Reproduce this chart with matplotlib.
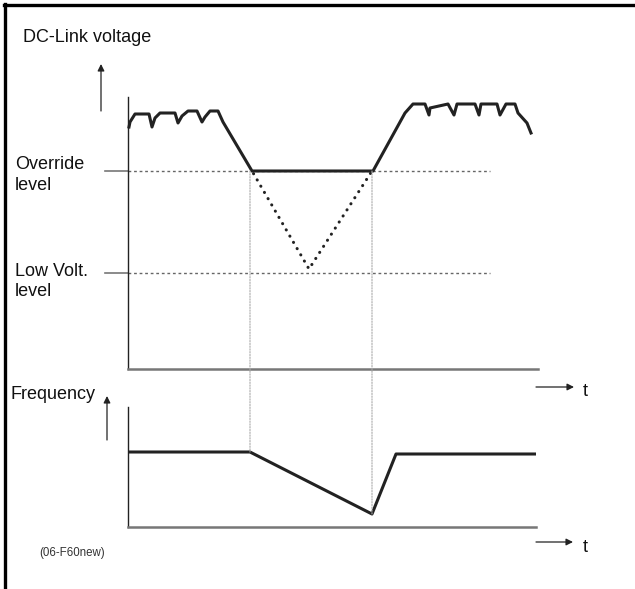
import matplotlib.pyplot as plt
from matplotlib.patches import ConnectionPatch

plt.rcParams['font.family'] = ['Liberation Sans', 'DejaVu Sans']
plt.rcParams['lines.scale_dashes'] = False

# DC-link voltage trace (time units, voltage units)
volt_t = [1, 2, 7, 21, 24, 27, 32, 47, 50, 54, 60, 69, 74, 77, 82, 90, 95,
          124, 245, 277, 285, 297, 301, 302, 320, 326, 329, 347, 351, 353,
          369, 372, 378, 387, 390, 399, 403]
volt_v = [242, 247, 255, 255, 242, 251, 256, 256, 246, 253, 258, 258, 247,
          252, 258, 258, 247, 198, 198, 256, 265, 265, 254, 261, 265, 254,
          265, 265, 254, 265, 265, 254, 265, 265, 256, 246, 236]

# levels
override_level = 198
lowvolt_level = 96
level_end = 362

# voltage without override (dotted V)
nooverride_t = [124, 181, 244]
nooverride_v = [198, 100, 198]

# output frequency
freq_t = [0, 122, 244, 268, 408]
freq_v = [75, 75, 13, 73, 73]

fig = plt.figure(figsize=(6.35, 5.89), dpi=100)

# overlay in pixel coordinates for frame, labels and arrows
bg = fig.add_axes([0, 0, 1, 1])
bg.set_xlim(0, 635)
bg.set_ylim(589, 0)
bg.axis('off')

W, H = 635, 589
ax_top = fig.add_axes([128 / W, 1 - 369 / H, 410 / W, 272 / H])
ax_bot = fig.add_axes([128 / W, 1 - 527 / H, 408 / W, 120 / H])

for ax in (ax_top, ax_bot):
    ax.patch.set_visible(False)
    ax.spines['top'].set_visible(False)
    ax.spines['right'].set_visible(False)
    ax.spines['left'].set_color('#222222')
    ax.spines['left'].set_linewidth(1.0)
    ax.spines['bottom'].set_color('#777777')
    ax.spines['bottom'].set_linewidth(1.8)
    ax.set_xticks([])
    ax.set_yticks([])

ax_top.set_xlim(0, 410)
ax_top.set_ylim(0, 272)
ax_bot.set_xlim(0, 408)
ax_bot.set_ylim(0, 120)

# top diagram
for lvl in (override_level, lowvolt_level):
    ax_top.plot([0, level_end], [lvl, lvl], color='#666666', lw=1.0,
                linestyle=(0, (2.0, 2.0)))
    ax_top.plot([-23, 0], [lvl, lvl], color='#777777', lw=1.2, clip_on=False)

ax_top.plot(nooverride_t, nooverride_v, color='#222222', lw=2.2,
            linestyle=(3, (0.1, 5.1)), dash_capstyle='round')
ax_top.plot(volt_t, volt_v, color='#222222', lw=2.2, solid_joinstyle='round',
            clip_on=False)

# bottom diagram
ax_bot.plot(freq_t, freq_v, color='#222222', lw=2.2)

# guide lines linking the two diagrams
for i in (1, 2):
    con = ConnectionPatch(xyA=(freq_t[i], override_level), coordsA=ax_top.transData,
                          xyB=(freq_t[i], freq_v[i]), coordsB=ax_bot.transData,
                          color='#aaaaaa', lw=0.8, linestyle=(0, (1, 1)))
    fig.add_artist(con)

# frame
bg.plot([4, 635], [5, 5], color='black', lw=2.4)
bg.plot([5, 5], [4, 589], color='black', lw=2.4)

# arrows
arrow = dict(arrowstyle='-|>', color='#222222', lw=0.9, mutation_scale=10,
             shrinkA=0, shrinkB=0)
bg.annotate('', xy=(101, 64), xytext=(101, 111), arrowprops=arrow)
bg.annotate('', xy=(107, 396), xytext=(107, 440), arrowprops=arrow)
bg.annotate('', xy=(574, 387), xytext=(536, 387), arrowprops=arrow)
bg.annotate('', xy=(573, 542), xytext=(536, 542), arrowprops=arrow)

# labels
fs = 13
bg.text(23, 42, 'DC-Link voltage', fontsize=fs, va='baseline', color='#111111')
bg.text(15, 169, 'Override', fontsize=fs, va='baseline', color='#111111')
bg.text(15, 190, 'level', fontsize=fs, va='baseline', color='#111111')
bg.text(15, 276, 'Low Volt.', fontsize=fs, va='baseline', color='#111111')
bg.text(15, 296, 'level', fontsize=fs, va='baseline', color='#111111')
bg.text(10, 399, 'Frequency', fontsize=fs, va='baseline', color='#111111')
bg.text(585, 391, 't', fontsize=fs, ha='center', va='center', color='#111111')
bg.text(585, 547, 't', fontsize=fs, ha='center', va='center', color='#111111')
bg.text(39, 553, '(06-F60new)', fontsize=8.3, va='center', color='#333333')

fig.savefig('out.png', dpi=100)
